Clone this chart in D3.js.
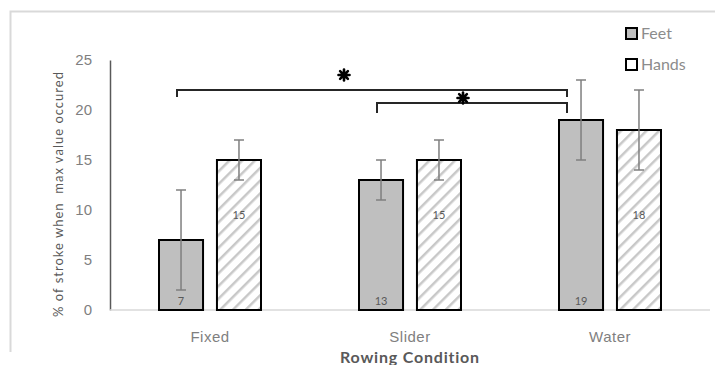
<!DOCTYPE html>
<html>
<head>
<meta charset="utf-8">
<script src="https://cdn.jsdelivr.net/npm/d3@7"></script>
<style>
  html, body { margin: 0; padding: 0; background: #fff; }
  svg { display: block; font-family: Lato, "Open Sans", sans-serif; }
</style>
</head>
<body>
<svg id="chart" width="715" height="365"></svg>
<script>
// Rowing conditions and the two measured series
const categories = ["Fixed", "Slider", "Water"];
const seriesNames = ["Feet", "Hands"];
const feetValues = [7, 13, 19];
const handsValues = [15, 15, 18];
const feetErrors = [5, 2, 4];
const handsErrors = [2, 2, 4];
const yTicks = [0, 5, 10, 15, 20, 25];
// Significance brackets: [fromCategory, toCategory, level]
const brackets = [["Fixed", "Water", 0], ["Slider", "Water", 1]];

const svg = d3.select("#chart");

// Frame around the figure
svg.append("path")
  .attr("d", "M10.5,352 L10.5,11.5 L715,11.5")
  .attr("fill", "none").attr("stroke", "#d9d9d9").attr("stroke-width", 2);

const plot = { left: 110, right: 710, top: 60, bottom: 310 };

const x0 = d3.scaleBand().domain(categories).range([plot.left, plot.right]);
const x1 = d3.scaleBand().domain(seriesNames).range([-51, 51]).paddingInner(0.24);
const y = d3.scaleLinear().domain([0, 25]).range([plot.bottom, plot.top]);

// Hatch pattern for the Hands bars
const defs = svg.append("defs");
const pat = defs.append("pattern")
  .attr("id", "hatch").attr("patternUnits", "userSpaceOnUse")
  .attr("width", 9).attr("height", 9)
  .attr("patternTransform", "rotate(45)");
pat.append("rect").attr("width", 9).attr("height", 9).attr("fill", "#fff");
pat.append("line").attr("x1", 0).attr("y1", 0).attr("x2", 0).attr("y2", 9)
  .attr("stroke", "#c8c8c8").attr("stroke-width", 5);

// Y axis
const yAxis = svg.append("g").attr("transform", `translate(${plot.left},0)`)
  .call(d3.axisLeft(y).tickValues(yTicks).tickSize(0).tickPadding(18));
yAxis.select(".domain").attr("stroke", "#595959").attr("stroke-width", 1.5);
yAxis.selectAll("text").attr("fill", "#7f7f7f").attr("font-size", 15);

// X baseline and category labels
svg.append("line")
  .attr("x1", plot.left).attr("x2", plot.right)
  .attr("y1", y(0)).attr("y2", y(0))
  .attr("stroke", "#d9d9d9").attr("stroke-width", 1.5);
const xAxis = svg.append("g").attr("transform", `translate(0,${plot.bottom})`)
  .call(d3.axisBottom(x0).tickSize(0).tickPadding(21));
xAxis.select(".domain").remove();
xAxis.selectAll("text").attr("fill", "#7f7f7f").attr("font-size", 15)
  .attr("letter-spacing", 0.5);

// Axis titles
svg.append("text")
  .attr("transform", `translate(63,194) rotate(-90)`)
  .attr("text-anchor", "middle").attr("font-size", 13).attr("fill", "#595959")
  .attr("letter-spacing", 1.0)
  .attr("xml:space", "preserve")
  .text("% of stroke when  max value occured");
svg.append("text")
  .attr("x", (plot.left + plot.right) / 2).attr("y", 363)
  .attr("text-anchor", "middle").attr("font-size", 16).attr("font-weight", "bold")
  .attr("letter-spacing", 0.8)
  .attr("fill", "#595959").text("Rowing Condition");

// Bars
const rows = categories.map((c, i) => ({
  cat: c,
  items: [
    { s: "Feet", v: feetValues[i], e: feetErrors[i] },
    { s: "Hands", v: handsValues[i], e: handsErrors[i] }
  ]
}));

const groups = svg.selectAll("g.cat").data(rows).join("g")
  .attr("class", "cat")
  .attr("transform", d => `translate(${x0(d.cat) + x0.bandwidth() / 2},0)`);

groups.selectAll("rect.bar").data(d => d.items).join("rect")
  .attr("class", "bar")
  .attr("x", d => x1(d.s))
  .attr("width", x1.bandwidth())
  .attr("y", d => y(d.v))
  .attr("height", d => y(0) - y(d.v))
  .attr("fill", d => d.s === "Feet" ? "#bfbfbf" : "url(#hatch)")
  .attr("stroke", "#000").attr("stroke-width", 2);

// Value labels: Feet near the base, Hands inside the upper part
groups.selectAll("text.val").data(d => d.items).join("text")
  .attr("class", "val")
  .attr("x", d => x1(d.s) + x1.bandwidth() / 2)
  .attr("y", d => d.s === "Feet" ? y(0) - 5 : y(9.1))
  .attr("text-anchor", "middle").attr("font-size", 11).attr("fill", "#595959")
  .text(d => d.v);

// Error bars
const err = groups.selectAll("g.err").data(d => d.items).join("g").attr("class", "err");
err.append("line")
  .attr("x1", d => x1(d.s) + x1.bandwidth() / 2)
  .attr("x2", d => x1(d.s) + x1.bandwidth() / 2)
  .attr("y1", d => y(d.v - d.e)).attr("y2", d => y(d.v + d.e))
  .attr("stroke", "#7f7f7f").attr("stroke-width", 1.5);
[-1, 1].forEach(sign => {
  err.append("line")
    .attr("x1", d => x1(d.s) + x1.bandwidth() / 2 - 5)
    .attr("x2", d => x1(d.s) + x1.bandwidth() / 2 + 5)
    .attr("y1", d => y(d.v + sign * d.e)).attr("y2", d => y(d.v + sign * d.e))
    .attr("stroke", "#7f7f7f").attr("stroke-width", 1.5);
});

// Significance brackets with asterisks
const bracketY = [90, 103];
const bracketDrop = [7, 10];
const starShift = [[-28, -15], [-9, -5]];
const asterisk = g => {
  for (let k = 0; k < 4; k++) {
    const a = k * Math.PI / 4;
    g.append("line")
      .attr("x1", -5.5 * Math.cos(a)).attr("y1", -5.5 * Math.sin(a))
      .attr("x2", 5.5 * Math.cos(a)).attr("y2", 5.5 * Math.sin(a))
      .attr("stroke", "#000").attr("stroke-width", 2.6).attr("stroke-linecap", "round");
  }
  g.append("circle").attr("r", 3.6).attr("fill", "#000");
};
brackets.forEach(([a, b, lvl]) => {
  const xa = x0(a) + x0.bandwidth() / 2 - 33;
  const xb = x0(b) + x0.bandwidth() / 2 - 43;
  const yy = bracketY[lvl], dd = bracketDrop[lvl];
  svg.append("path")
    .attr("d", `M${xa},${yy + dd} L${xa},${yy} L${xb},${yy} L${xb},${yy + dd}`)
    .attr("fill", "none").attr("stroke", "#262626").attr("stroke-width", 2);
  svg.append("g")
    .attr("transform", `translate(${(xa + xb) / 2 + starShift[lvl][0]},${yy + starShift[lvl][1]})`)
    .call(asterisk);
});

// Legend
const legend = svg.append("g").attr("transform", "translate(626,28)");
seriesNames.forEach((s, i) => {
  const g = legend.append("g").attr("transform", `translate(0,${i * 31})`);
  g.append("rect").attr("width", 11).attr("height", 11)
    .attr("fill", s === "Feet" ? "#bfbfbf" : "#fff")
    .attr("stroke", "#000").attr("stroke-width", 2);
  g.append("text").attr("x", 15).attr("y", 11).attr("font-size", 16)
    .attr("fill", "#8c8c8c").text(s);
});
</script>
</body>
</html>
